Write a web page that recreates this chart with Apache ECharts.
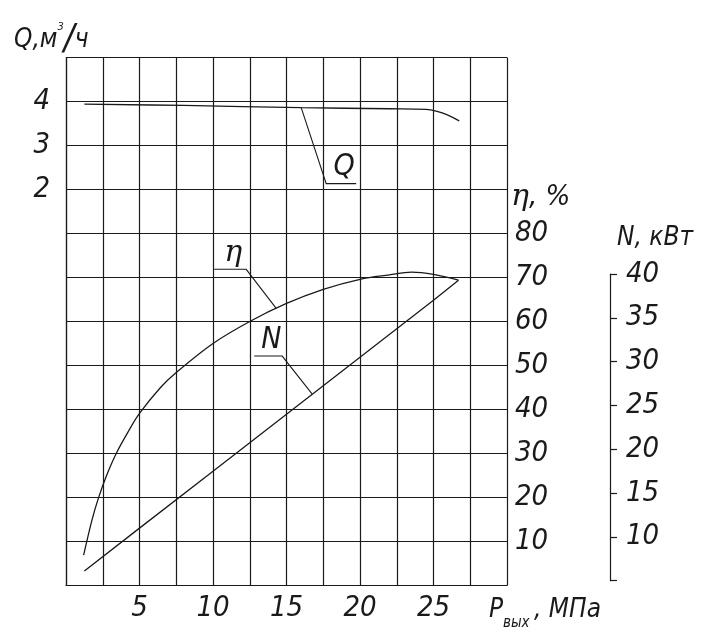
<!DOCTYPE html>
<html>
<head>
<meta charset="utf-8">
<script src="https://cdn.jsdelivr.net/npm/echarts@6/dist/echarts.min.js"></script>
<style>
html, body { margin: 0; background: #fff; }
#chart { width: 715px; height: 635px; }
</style>
</head>
<body>
<div id="chart"></div>
<script>
// Q curve (m3/h) against outlet pressure (MPa)
var pressQ = [1.25, 8, 16, 22, 24.5, 25.3, 25.9, 26.75];
var flowQ = [3.94, 3.91, 3.86, 3.835, 3.82, 3.77, 3.7, 3.56];
// efficiency, %
var pressEta = [1.2, 1.77, 2.2, 2.76, 3.4, 4.24, 5.0, 6.43, 7.5, 10, 12.5, 15, 17.5, 20, 22, 23.5, 25, 26.7];
var eff = [6.9, 14.9, 19.8, 25.0, 29.9, 35.0, 39.1, 45.0, 48.4, 55, 60, 64.1, 67.3, 69.6, 70.6, 71.2, 70.7, 69.4];
// power, kW
var pressN = [1.25, 5, 10, 15, 20, 25, 26.7];
var power = [6.1, 11, 17.5, 24, 30.5, 37, 39.3];

var pTicks = [5, 10, 15, 20, 25];
var qTicks = [2, 3, 4];
var etaTicks = [10, 20, 30, 40, 50, 60, 70, 80];
var nTicks = [10, 15, 20, 25, 30, 35, 40];

var INK = '#1a1a1a';
var SANS = '"Liberation Sans Narrow", "DejaVu Sans Condensed", sans-serif';
var SERIF = '"DejaVu Serif", "Liberation Serif", serif';

function pairs(xs, ys) {
    return xs.map(function (x, i) { return [x, ys[i]]; });
}
function only(list) {
    return function (v) { return list.indexOf(v) >= 0 ? String(v) : ''; };
}
function lbl(extra) {
    var s = { color: INK, fontFamily: SANS, fontStyle: 'italic', fontSize: 29 };
    for (var k in extra) s[k] = extra[k];
    return s;
}

var option = {
    animation: false,
    backgroundColor: '#fff',
    grid: [
        { left: 66, right: 208, top: 57.5, bottom: 49.5 },
        { left: 66, right: 208, top: 274, bottom: 54.3 }
    ],
    xAxis: [{
        gridIndex: 0, type: 'value', min: 0, max: 30, interval: 2.5,
        axisLine: { show: true, onZero: false, lineStyle: { color: INK, width: 1.2 } },
        axisTick: { show: false },
        splitLine: { show: true, lineStyle: { color: INK, width: 1.2 } },
        axisLabel: lbl({ margin: 8, formatter: only(pTicks) })
    }, {
        gridIndex: 1, type: 'value', min: 0, max: 30, show: false
    }],
    yAxis: [{
        gridIndex: 0, type: 'value', min: -7, max: 5, interval: 1, position: 'left',
        axisLine: { show: true, onZero: false, lineStyle: { color: INK, width: 1.2 } },
        axisTick: { show: false },
        splitLine: { show: true, lineStyle: { color: INK, width: 1.2 } },
        axisLabel: lbl({ margin: 16, padding: [7, 0, 0, 0], formatter: only(qTicks) })
    }, {
        gridIndex: 0, type: 'value', min: 0, max: 120, interval: 10, position: 'right',
        axisLine: { show: false, onZero: false },
        axisTick: { show: false },
        splitLine: { show: false },
        axisLabel: lbl({ margin: 8, padding: [4, 0, 0, 0], formatter: only(etaTicks) })
    }, {
        gridIndex: 1, type: 'value', min: 5, max: 40, interval: 5, position: 'right', offset: 103,
        axisLine: { show: true, onZero: false, lineStyle: { color: INK, width: 1.2 } },
        axisTick: { show: true, inside: false, length: 7, lineStyle: { color: INK, width: 1.2 } },
        splitLine: { show: false },
        axisLabel: lbl({ margin: 16, formatter: only(nTicks) })
    }],
    series: [{
        name: 'Q', type: 'line', xAxisIndex: 0, yAxisIndex: 0,
        data: pairs(pressQ, flowQ), smooth: 0.4, symbol: 'none',
        lineStyle: { color: INK, width: 1.3 }
    }, {
        name: 'η', type: 'line', xAxisIndex: 0, yAxisIndex: 1,
        data: pairs(pressEta, eff), smooth: 0.35, symbol: 'none',
        lineStyle: { color: INK, width: 1.3 }
    }, {
        name: 'N', type: 'line', xAxisIndex: 1, yAxisIndex: 2,
        data: pairs(pressN, power), symbol: 'none',
        lineStyle: { color: INK, width: 1.3 }
    }]
};

var chart = echarts.init(document.getElementById('chart'));
chart.setOption(option);

// callouts: leader from a point on the curve to an underlined letter
var callouts = [
    { text: 'Q', font: SANS, tip: [16, 3.86], axes: [0, 0], elbow: [25, 76], end: [55, 76] },
    { text: 'η', font: SERIF, tip: [14.3, 63], axes: [0, 1], elbow: [-30, -39], end: [-62, -39] },
    { text: 'N', font: SANS, tip: [16.75, 26.3], axes: [1, 2], elbow: [-30, -38], end: [-58, -38] }
];

var graphics = [];
callouts.forEach(function (c) {
    var t = chart.convertToPixel({ xAxisIndex: c.axes[0], yAxisIndex: c.axes[1] }, c.tip);
    var e = [t[0] + c.elbow[0], t[1] + c.elbow[1]];
    var f = [t[0] + c.end[0], t[1] + c.end[1]];
    graphics.push({
        type: 'polyline', silent: true,
        shape: { points: [t, e, f] },
        style: { stroke: INK, lineWidth: 1.1, fill: null }
    });
    graphics.push({
        type: 'text', silent: true,
        style: {
            text: c.text, x: (e[0] + f[0]) / 2 + 3, y: e[1] - 1,
            align: 'center', verticalAlign: 'bottom',
            fill: INK, fontFamily: c.font, fontStyle: 'italic', fontSize: 30
        }
    });
});

function title(x, y, text, rich) {
    return {
        type: 'text', silent: true,
        style: {
            text: text, x: x, y: y, verticalAlign: 'middle', align: 'left',
            fill: INK, fontFamily: SANS, fontStyle: 'italic', fontSize: 26, rich: rich
        }
    };
}

graphics.push(title(14, 40, '{a|Q,м}{s|3}{b|/}{a|ч}', {
    a: { fontFamily: SANS, fontStyle: 'italic', fontSize: 26, fill: INK },
    s: { fontFamily: SANS, fontStyle: 'italic', fontSize: 11, fill: INK, verticalAlign: 'top' },
    b: { fontFamily: SANS, fontStyle: 'italic', fontSize: 36, fill: INK }
}));
graphics.push(title(511, 197, '{e|η}{a|, %}', {
    e: { fontFamily: SERIF, fontStyle: 'italic', fontSize: 30, fill: INK },
    a: { fontFamily: SANS, fontStyle: 'italic', fontSize: 29, fill: INK }
}));
graphics.push(title(617, 238, 'N, кВт', null));
graphics.push(title(489, 610, 'P', null));
graphics.push({
    type: 'text', silent: true,
    style: { text: 'вых', x: 503, y: 623, verticalAlign: 'middle', fill: INK,
        fontFamily: SANS, fontStyle: 'italic', fontSize: 15 }
});
graphics.push(title(534, 610, ', МПа', null));

chart.setOption({ graphic: graphics });
</script>
</body>
</html>
